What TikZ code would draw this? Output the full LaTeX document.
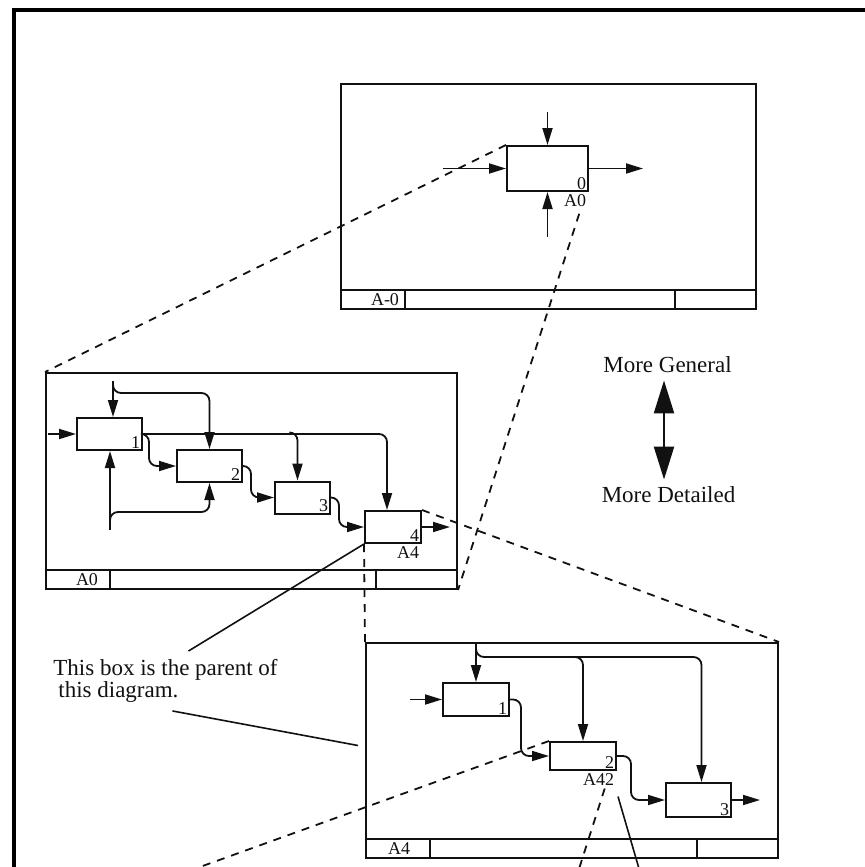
\documentclass[tikz,border=0pt]{standalone}
\usepackage{fontspec}
\setmainfont{Liberation Serif}
\usepackage{tikz}
\usetikzlibrary{arrows.meta,calc}
\definecolor{ink}{HTML}{111111}
\tikzset{
  frm/.style={draw=ink, line width=1pt, minimum width=206pt, minimum height=108pt, inner sep=0pt},
  fnbox/.style={draw=ink, line width=1pt, minimum width=32.5pt, minimum height=16pt, inner sep=0pt, fill=white},
  flow/.style={-{Triangle[length=8.5pt,width=5pt]}, line width=.9pt, draw=ink},
  bus/.style={flow, rounded corners=4pt},
  dashlink/.style={line width=.9pt, draw=ink, dash pattern=on 4pt off 3.5pt},
  callout/.style={line width=.8pt, draw=ink},
  num/.style={font=\fontsize{9}{10}\selectfont, inner sep=1.2pt, text=ink},
  txt/.style={font=\fontsize{11.5}{11}\selectfont, inner sep=0pt, text=ink},
  bigarr/.style={{Triangle[length=16.5pt,width=10pt]}-{Triangle[length=16.5pt,width=10pt]}, line width=1.2pt, draw=ink},
}
\begin{document}
\begin{tikzpicture}[x=0.5pt, y=-0.5pt]
  \useasboundingbox (0,0) rectangle (864,867);
  \draw[line width=2.2pt] (14,870) -- (14,10) -- (868,10);

  % the three diagram frames
  \node[frm, minimum width=207.5pt, minimum height=112.5pt] (frTop) at (548.5,196.5) {};
  \node[frm, minimum width=205.5pt] (frA0) at (251.5,481) {};
  \node[frm, minimum height=107.5pt] (frA4) at (572,750.5) {};
  \foreach \f/\lab/\off in {frTop/A-0/45, frA0/A0/42, frA4/A4/34}{
    \draw[line width=1pt, ink] ($(\f.south west)+(0,-20)$) -- ($(\f.south east)+(0,-20)$);
    \draw[line width=1pt, ink] ($(\f.south west)+(65,0)$) -- ++(0,-20);
    \draw[line width=1pt, ink] ($(\f.south east)+(-82,0)$) -- ++(0,-20);
    \node[num] (\f-id) at ($(\f.south west)+(\off,-10)$) {\lab};
  }

  % A-0
  \node[fnbox, minimum width=40.5pt, minimum height=22.5pt] (tb0) at (547.5,168.5) {};
  \node[num, anchor=south east] (tb0-n) at (tb0.south east) {0};
  \node[num, anchor=north east] (tb0-id) at (tb0.south east) {A0};
  \coordinate (tctl) at (547.5,112);
  \coordinate (tmec) at (547.5,237);
  \coordinate (tin) at (443,168.5);
  \coordinate (tout) at (643,168.5);
  \draw[flow] (tctl) -- (tb0.north);
  \draw[flow] (tmec) -- (tb0.south);
  \draw[flow] (tin) -- (tb0.west);
  \draw[flow] (tb0.east) -- (tout);

  % A0
  \foreach \n/\x/\y/\w in {1/109.5/434/32.5, 2/209.5/466/32.5, 3/302.5/497.5/27.5, 4/393/527/28}{
    \node[fnbox, minimum width=\w pt] (a0b\n) at (\x,\y) {};
    \node[num, anchor=south east] (a0b\n-n) at (a0b\n.south east) {\n};
  }
  \node[num, anchor=north east] (a0b4-id) at (a0b4.south east) {A4};
  \coordinate (a0in) at (48,434);
  \coordinate (a0ctl) at (113,381);
  \coordinate (a0mec) at (110,530);
  \coordinate (a0out) at (450,527);
  \draw[flow] (a0in) -- (a0b1.west);
  \draw[flow] (a0ctl) -- (a0b1.north -| a0ctl);
  \draw[bus] ($(a0ctl)+(0,6)$) |- ($(a0b2.north)+(0,-56)$) -- (a0b2.north);
  \draw[flow] (a0mec) -- (a0b1.south -| a0mec);
  \draw[bus] ($(a0mec)+(0,-10)$) |- ($(a0b2.south)+(0,29)$) -- (a0b2.south);
  \draw[bus] (a0b1.east) -| ($(a0b4.north)+(-6,0)$);
  \draw[bus] ($(a0b1.east)+(2,0)$) -| ($(a0b2.west)+(-27,0)$) -- (a0b2.west);
  \draw[bus] ($(a0b3.north)+(-12,-48)$) -| ($(a0b3.north)+(-5,0)$);
  \draw[bus] (a0b2.east) -| ($(a0b3.west)+(-23,0)$) -- (a0b3.west);
  \draw[bus] (a0b3.east) -| ($(a0b4.west)+(-25,0)$) -- (a0b4.west);
  \draw[flow] (a0b4.east) -- (a0out);

  % A4
  \foreach \n/\x/\y/\w/\h in {1/476/699.5/33/16.5, 2/583/756/33/14, 3/698.5/800/32.5/17}{
    \node[fnbox, minimum width=\w pt, minimum height=\h pt] (a4b\n) at (\x,\y) {};
    \node[num, anchor=south east] (a4b\n-n) at (a4b\n.south east) {\n};
  }
  \node[num, anchor=north east] (a4b2-id) at (a4b2.south east) {A42};
  \coordinate (a4in) at (410,699.5);
  \coordinate (a4out) at (760,800);
  \draw[flow] (a4b1.north |- frA4.north) -- (a4b1.north);
  \draw[bus] ($(a4b1.north)+(0,-33)$) |- ($(a4b2.north)+(0,-84)$) -- (a4b2.north);
  \draw[bus] ($(a4b2.north)+(-10,-84)$) -| ($(a4b3.north)+(3,0)$);
  \draw[flow] (a4in) -- (a4b1.west);
  \draw[bus] (a4b1.east) -| ($(a4b2.west)+(-28,0)$) -- (a4b2.west);
  \draw[bus] (a4b2.east) -| ($(a4b3.west)+(-34,0)$) -- (a4b3.west);
  \draw[flow] (a4b3.east) -- (a4out);

  % links between levels
  \coordinate (offA) at (186,872);
  \coordinate (offB) at (578,872);
  \coordinate (offC) at (640,872);
  \draw[dashlink] (tb0.north west) -- (frA0.north west);
  \draw[dashlink] ($(tb0-id.south)+(4,4)$) -- (frA0.south east);
  \draw[dashlink] (a0b4.north east) -- (frA4.north east);
  \draw[dashlink] (a0b4.south west) -- (frA4.north west);
  \draw[dashlink] (a4b2.north west) -- (offA);
  \draw[dashlink] ($(a4b2-id.south)+(6,0)$) -- (offB);
  \draw[callout] ($(a4b2-id.south east)+(1,8)$) -- (offC);

  % note
  \node[txt, align=left, anchor=north west] (note) at (53,659) {This box is the parent of\\\hspace*{2.5pt}this diagram.};
  \draw[callout] ($(note.north)+(23,-8)$) -- (a0b4.south west);
  \draw[callout] ($(note.south)+(7,8)$) -- ($(frA4.west)+(-7,-5)$);

  % level arrow
  \node[txt] (gen) at (667.5,365) {More General};
  \node[txt] (det) at (668.5,495) {More Detailed};
  \draw[bigarr] ($(gen.south)+(-3.5,7)$) -- ($(det.north)+(-4.5,-7)$);
\end{tikzpicture}
\end{document}
